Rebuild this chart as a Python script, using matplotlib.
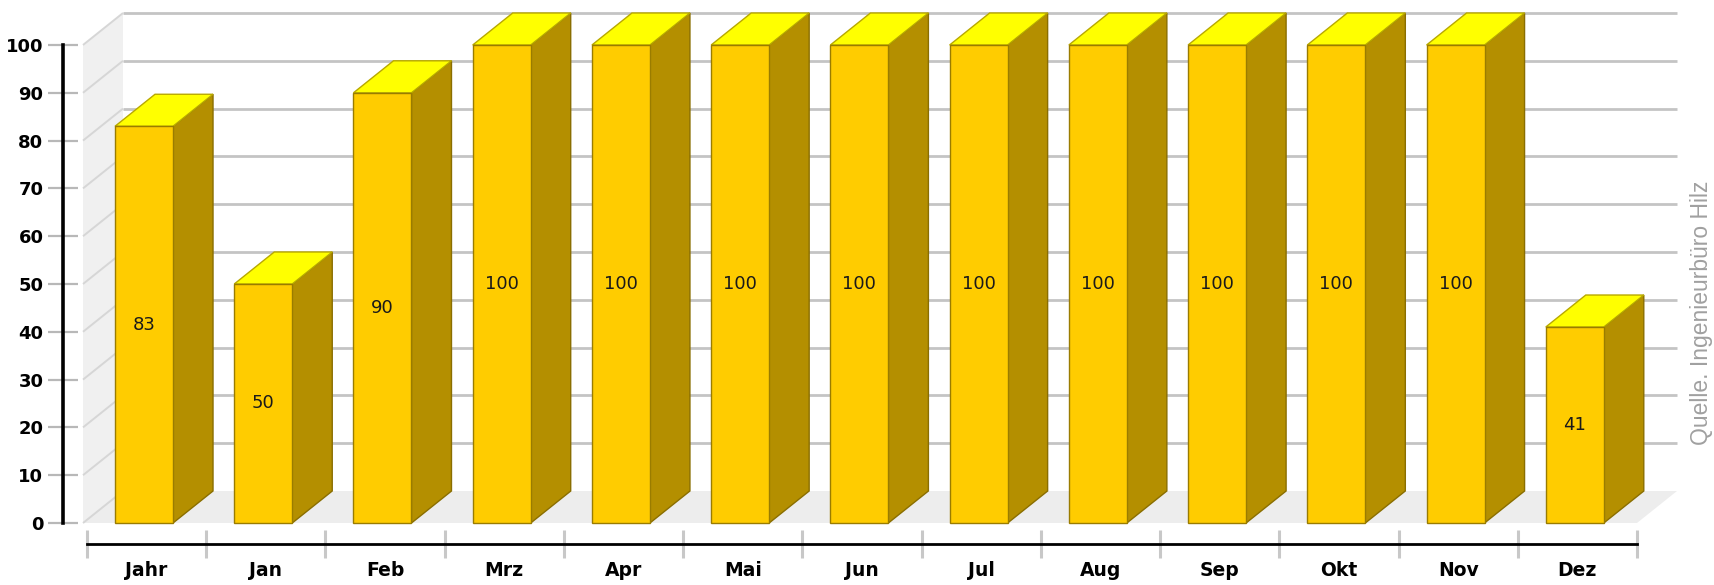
import numpy as np
import matplotlib
matplotlib.use('Agg')
import matplotlib.pyplot as plt
from matplotlib.patches import Polygon

# Monatswerte (Prozent)
categories = ['Jahr', 'Jan', 'Feb', 'Mrz', 'Apr', 'Mai', 'Jun', 'Jul', 'Aug', 'Sep', 'Okt', 'Nov', 'Dez']
values = [83, 50, 90, 100, 100, 100, 100, 100, 100, 100, 100, 100, 41]
y_ticks = [0, 10, 20, 30, 40, 50, 60, 70, 80, 90, 100]
source = 'Quelle. Ingenieurbüro Hilz'

W, H = 1715, 585
fig = plt.figure(figsize=(W / 100, H / 100), dpi=100)
fig.patch.set_facecolor('white')

# front plane of the pseudo-3D chart, in pixels
left_px, right_px, bottom_px, top_px = 87, 1637, 523, 45
ax = fig.add_axes([left_px / W, 1 - bottom_px / H,
                   (right_px - left_px) / W, (bottom_px - top_px) / H])
n = len(categories)
ax.set_xlim(-0.5, n - 0.5)
ax.set_ylim(0, 100)
ax.set_facecolor('none')

px_x = (right_px - left_px) / n      # pixels per category
px_y = (bottom_px - top_px) / 100.0  # pixels per unit

# depth offset of the 3D effect
DX = 40 / px_x
DY = 32 / px_y

# side wall, floor and back wall grid
x0 = -0.5 - 4 / px_x
xe = n - 0.5
ax.add_patch(Polygon([(x0, 0), (x0, 100), (x0 + DX, 100 + DY), (x0 + DX, DY)],
                     closed=True, facecolor='#f0f0f0', edgecolor='none',
                     zorder=0, clip_on=False))
ax.add_patch(Polygon([(x0, 0), (xe, 0), (xe + DX, DY), (x0 + DX, DY)],
                     closed=True, facecolor='#ededed', edgecolor='none',
                     zorder=0.5, clip_on=False))
for v in y_ticks:
    ax.plot([x0, x0 + DX], [v, v + DY], color='#d6d6d6', lw=1.4,
            zorder=1, clip_on=False, solid_capstyle='butt')
    if v > 0:
        ax.plot([x0 + DX, xe + DX], [v + DY, v + DY], color='#c4c4c4', lw=2,
                zorder=1, clip_on=False, solid_capstyle='butt')

# bars
front_w = 58 / px_x
off = -31.6 / px_x
for i, v in enumerate(values):
    xl = i + off
    xr = xl + front_w
    side = Polygon([(xr, 0), (xr + DX, DY), (xr + DX, v + DY), (xr, v)],
                   closed=True, facecolor='#b48f00', edgecolor='#8a6e00',
                   lw=1, zorder=3, clip_on=False)
    top = Polygon([(xl, v), (xr, v), (xr + DX, v + DY), (xl + DX, v + DY)],
                  closed=True, facecolor='#ffff00', edgecolor='#b8a800',
                  lw=1, zorder=3, clip_on=False)
    front = Polygon([(xl, 0), (xr, 0), (xr, v), (xl, v)],
                    closed=True, facecolor='#ffcc00', edgecolor='#9a7c00',
                    lw=1, zorder=4, clip_on=False)
    ax.add_patch(side)
    ax.add_patch(top)
    ax.add_patch(front)
    ax.text((xl + xr) / 2, v / 2, str(v), ha='center', va='center',
            fontsize=13, color='#1a1a1a', zorder=5)

# axes styling
for s in ['top', 'right']:
    ax.spines[s].set_visible(False)
ax.spines['left'].set_position(('outward', 17))
ax.spines['left'].set_linewidth(2.6)
ax.spines['left'].set_color('black')
ax.spines['bottom'].set_position(('outward', 15))
ax.spines['bottom'].set_linewidth(2)
ax.spines['bottom'].set_color('black')

ax.set_yticks(y_ticks)
ax.set_yticklabels([str(t) for t in y_ticks], fontsize=13, fontweight='bold')
ax.tick_params(axis='y', direction='inout', length=21.6, width=1.6,
               color='#b8b8b8', pad=3.6)

ax.set_xticks(range(n))
ax.set_xticklabels(categories, fontsize=13.5, fontweight='bold')
ax.tick_params(axis='x', which='major', length=0, pad=19)
ax.set_xticks(np.arange(-0.5, n), minor=True)
ax.tick_params(axis='x', which='minor', direction='inout', length=20,
               width=2.2, color='#c8c8c8')
for lbl in ax.get_xticklabels():
    lbl.set_verticalalignment('center')

fig.text(1702 / W, 1 - 313 / H, source, rotation=90, ha='center', va='center',
         fontsize=16.5, color='#a0a0a0', family='Liberation Sans')

fig.savefig('out.png', dpi=100)
